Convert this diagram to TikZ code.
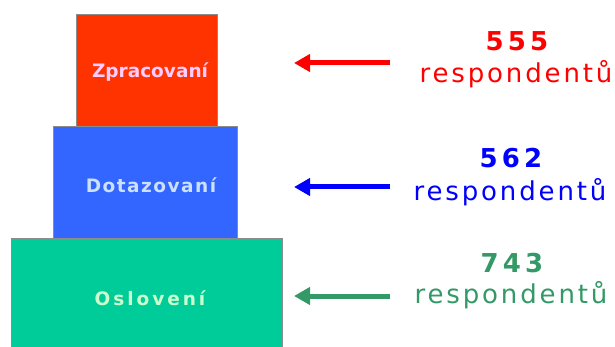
\documentclass[tikz,border=0pt]{standalone}
\usepackage{fontspec}
\setmainfont{DejaVu Sans}
\usetikzlibrary{arrows.meta}
\definecolor{boxred}{HTML}{FF3300}
\definecolor{boxblue}{HTML}{3366FF}
\definecolor{boxgreen}{HTML}{00CC99}
\definecolor{lblred}{HTML}{FFCCFF}
\definecolor{lblblue}{HTML}{CCE0FF}
\definecolor{lblgreen}{HTML}{CCFFCC}
\definecolor{txtred}{HTML}{FF0000}
\definecolor{txtblue}{HTML}{0000FF}
\definecolor{txtgreen}{HTML}{339966}
\definecolor{edgegray}{HTML}{8C8C8C}
\newfontfamily\lblZ[LetterSpace=0]{DejaVu Sans Bold}
\newfontfamily\lblD[LetterSpace=8]{DejaVu Sans Bold}
\newfontfamily\lblO[LetterSpace=16]{DejaVu Sans Bold}
\newfontfamily\numfont[LetterSpace=16]{DejaVu Sans Bold}
\newfontfamily\respfont[LetterSpace=11]{DejaVu Sans}
\begin{document}
\begin{tikzpicture}[x=1pt,y=-1pt,
  level/.style={draw=edgegray, line width=1pt},
  boxlabel/.style={anchor=base, inner sep=0pt, font=\fontsize{18.5}{20}\selectfont},
  numlabel/.style={anchor=base, inner sep=0pt, font=\numfont\fontsize{26}{28}\selectfont},
  resplabel/.style={anchor=base, inner sep=0pt, font=\respfont\fontsize{26}{28}\selectfont},
  pointer/.style={line width=5pt, -{Triangle[length=16pt,width=17pt]}}]
\useasboundingbox (0,0) rectangle (615,347);
\clip (0,0) rectangle (615,347);
\fill[white] (0,0) rectangle (615,347);
% boxes
\draw[level, fill=boxgreen] (11,239) rectangle (282,352);
\draw[level, fill=boxblue] (53,127) rectangle (237,239);
\draw[level, fill=boxred] (76,15) rectangle (217,127);
\node[boxlabel, text=lblred] (zpr) at (150,78) {\lblZ Zpracovaní};
\node[boxlabel, text=lblblue] (dot) at (151,193) {\lblD Dotazovaní};
\node[boxlabel, text=lblgreen] (osl) at (150,305) {\lblO Oslovení};
% texts
\node[numlabel, text=txtred] (n1) at (517,51) {555};
\node[resplabel, text=txtred] (r1) at (516,83) {respondentů};
\node[numlabel, text=txtblue] (n2) at (511,168) {562};
\node[resplabel, text=txtblue] (r2) at (510,201) {respondentů};
\node[numlabel, text=txtgreen] (n3) at (512,272) {743};
\node[resplabel, text=txtgreen] (r3) at (511,303) {respondentů};
% arrows
\coordinate (a1s) at (390,63); \coordinate (a1e) at (294,63);
\coordinate (a2s) at (390,187); \coordinate (a2e) at (294,187);
\coordinate (a3s) at (390,296); \coordinate (a3e) at (294,296);
\draw[pointer, txtred] (a1s) -- (a1e);
\draw[pointer, txtblue] (a2s) -- (a2e);
\draw[pointer, txtgreen] (a3s) -- (a3e);
\end{tikzpicture}
\end{document}
